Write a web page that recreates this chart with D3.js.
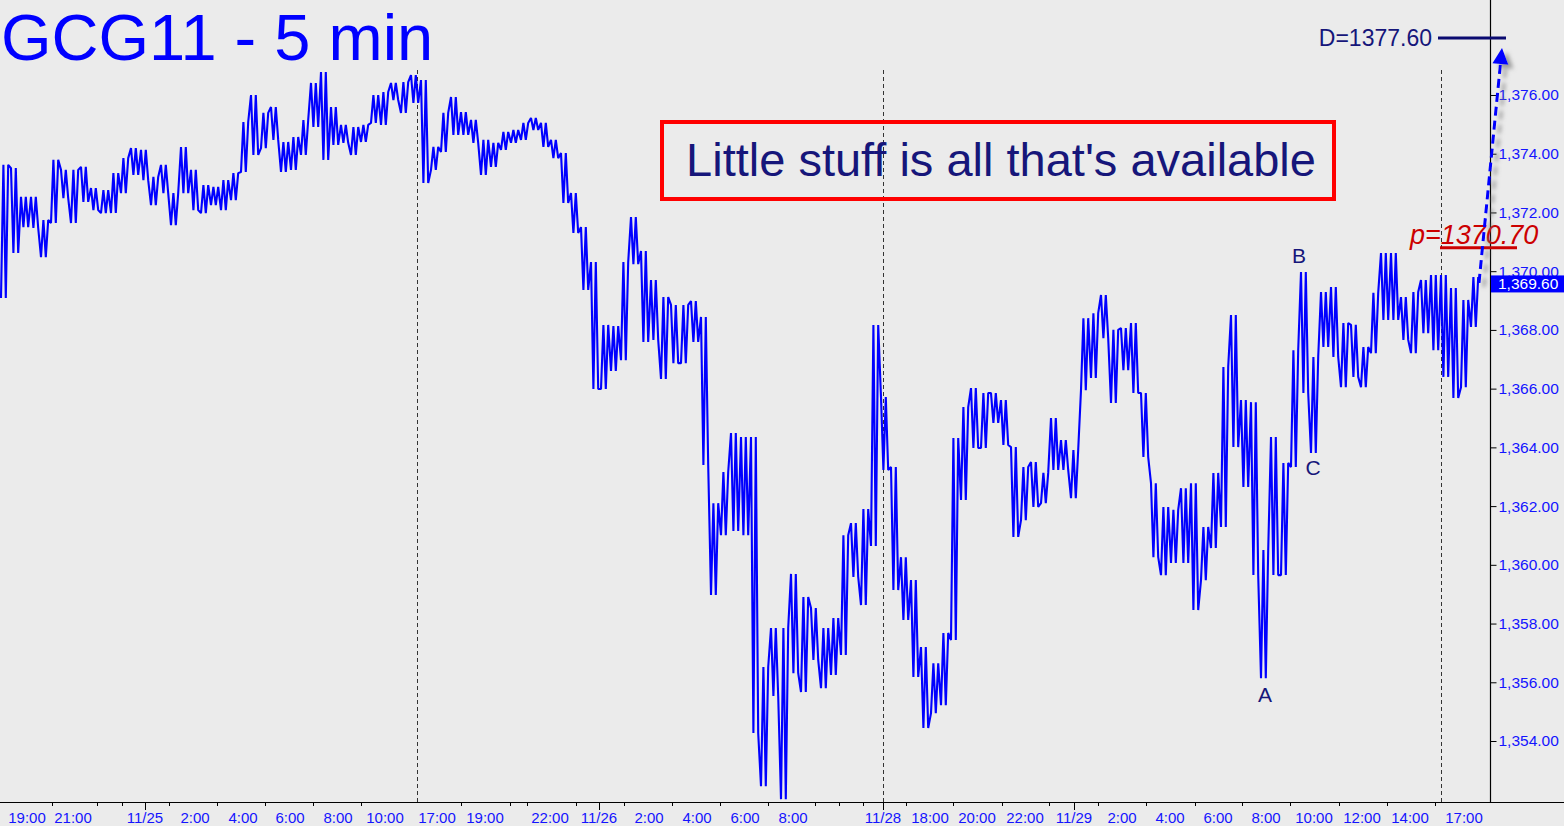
<!DOCTYPE html>
<html><head><meta charset="utf-8">
<script src="https://cdn.jsdelivr.net/npm/d3@7"></script>
<style>html,body{margin:0;padding:0;background:#ebebeb;}svg{display:block;}</style>
</head><body><svg id="c" width="1564" height="826"></svg>
<script>
// ---- data: 25-minute buckets (5 bars of 5 min) ----
const bucketHigh = [
1373.62,1373.51,1372.53,1372.53,1371.74,1373.79,1373.45,1373.45,1373.55,1372.83,
1372.76,1373.34,1373.85,1374.19,1374.13,1373.21,1373.62,1372.66,1374.23,1373.45,
1372.93,1372.87,1373.10,1373.34,1375.08,1376.00,1375.39,1375.59,1374.40,1374.57,
1375.15,1376.41,1376.78,1375.59,1374.98,1374.91,1374.98,1376.00,1376.10,1376.41,
1376.44,1376.68,1376.51,1374.23,1375.39,1375.93,1375.42,1375.15,1374.47,1374.37,
1374.74,1374.81,1375.05,1375.22,1375.05,1374.47,1374.02,1372.66,1371.50,1370.31,
1368.17,1368.13,1370.31,1371.84,1370.69,1369.70,1369.12,1368.85,1368.85,1368.98,
1368.44,1362.10,1363.16,1364.49,1364.35,1364.35,1356.52,1357.85,1357.85,1359.69,
1358.90,1358.53,1357.85,1358.19,1361.01,1361.42,1361.90,1368.17,1365.71,1363.33,
1360.26,1359.48,1357.20,1356.65,1357.68,1364.32,1365.37,1366.02,1365.85,1365.85,
1365.61,1364.01,1363.33,1363.50,1363.13,1365.00,1364.25,1363.91,1368.40,1368.57,
1369.19,1368.00,1368.06,1368.23,1365.85,1362.78,1361.97,1361.87,1362.61,1362.78,
1361.29,1363.13,1366.74,1368.51,1365.61,1365.54,1360.50,1364.35,1363.47,1367.31,
1369.97,1367.08,1369.29,1369.46,1368.23,1368.17,1367.42,1369.26,1370.62,1370.62,
1369.12,1369.29,1369.70,1369.87,1369.87,1369.43,1369.02,1369.80];
const bucketLow = [
1369.09,1370.62,1371.50,1371.47,1370.48,1371.64,1372.49,1371.64,1372.36,1372.08,
1371.98,1371.98,1372.66,1373.28,1373.10,1372.25,1372.66,1371.57,1372.66,1372.08,
1371.98,1372.25,1372.08,1372.42,1373.38,1373.96,1374.19,1374.47,1373.38,1373.45,
1373.96,1374.91,1373.79,1374.30,1374.37,1373.96,1374.40,1375.05,1374.98,1375.83,
1375.39,1375.73,1373.00,1373.45,1374.06,1374.64,1374.64,1374.37,1373.28,1373.55,
1374.13,1374.37,1374.47,1374.81,1374.23,1373.85,1372.32,1371.30,1369.36,1365.99,
1365.99,1366.60,1366.97,1370.24,1367.59,1367.66,1366.33,1366.87,1366.87,1367.59,
1363.40,1358.97,1361.01,1361.15,1361.01,1354.27,1352.46,1355.53,1352.02,1356.31,
1355.67,1356.76,1355.80,1356.25,1356.93,1359.59,1358.63,1360.64,1363.23,1359.14,
1358.12,1356.18,1354.44,1354.95,1355.22,1357.44,1362.21,1363.98,1363.98,1364.83,
1364.08,1360.95,1361.52,1361.97,1362.10,1363.23,1363.23,1362.27,1365.95,1366.36,
1367.72,1365.51,1366.63,1365.85,1363.67,1360.26,1359.65,1360.06,1360.06,1358.46,
1359.48,1360.57,1361.29,1364.01,1362.65,1359.65,1356.14,1359.65,1359.65,1363.33,
1365.85,1363.81,1367.42,1367.08,1366.05,1366.40,1366.05,1367.21,1368.34,1368.34,
1367.66,1367.21,1367.89,1367.31,1366.40,1365.68,1366.05,1368.10];
const barsPerBucket = 5;
const lastPrice = 1369.60;

const priceTicks = [1354,1356,1358,1360,1362,1364,1366,1368,1370,1372,1374,1376];
const timeLabels = ["19:00","21:00","11/25","2:00","4:00","6:00","8:00","10:00","17:00","19:00","22:00","11/26","2:00","4:00","6:00","8:00","11/28","18:00","20:00","22:00","11/29","2:00","4:00","6:00","8:00","10:00","12:00","14:00","17:00"];
const timeLabelBar = [13.5,36.5,72.5,97.5,121.5,145,169,192.5,218.5,242.5,275,299.5,324.5,348.5,372.5,396.5,441.5,465,488.5,512.5,537,561,585,609,633,657,681,705,732];
const majorTickBar = [72.5,299.5,441.5,537];
const minorTickBar = [26,48.5,61,84.5,108.5,132.5,156.5,180.5,230.5,255,263.5,288,312,336,360,384,407.5,419.5,431.5,453,476.5,501,524.5,549,573,597.5,621,645,669.5,693.5,717.5];
const sessionBreakBar = [208.5,441.5,720.5];

const targetPrice = 1377.60;
const pivotPrice = 1370.70;
const waveLabels = ["A","B","C"];
const waveBar = [632.5,649.5,656.5];
const wavePrice = [1355.60,1370.52,1363.30];
const titleText = "GCG11 - 5 min";
const noteText = "Little stuff is all that's available";

// ---- scales ----
const W = 1564, H = 826, plotR = 1490, plotB = 802;
const x = d3.scaleLinear().domain([0, 745]).range([0, plotR]);
const y = d3.scaleLinear().domain([1351.923, 1379.235]).range([plotB, 0]);
const FONT = "'Liberation Sans', Arial, sans-serif";
const svg = d3.select("#c");
svg.append("rect").attr("width", W).attr("height", H).attr("fill", "#ebebeb");

const defs = svg.append("defs");
const f = defs.append("filter").attr("id","sh").attr("x","-50%").attr("y","-50%").attr("width","200%").attr("height","200%");
f.append("feDropShadow").attr("dx",5).attr("dy",4).attr("stdDeviation",2.2).attr("flood-color","#777").attr("flood-opacity",0.7);

// session breaks
svg.append("g").selectAll("line").data(sessionBreakBar).join("line")
  .attr("x1", d => Math.round(x(d)) + 0.5).attr("x2", d => Math.round(x(d)) + 0.5)
  .attr("y1", 70).attr("y2", plotB)
  .attr("stroke", "#333").attr("stroke-width", 1).attr("stroke-dasharray", "4,3");

// price path: each bucket swings across its high/low range
const mids = bucketHigh.map((h,i) => (h + bucketLow[i]) / 2);
const pts = [];
bucketHigh.forEach((h, i) => {
  const lo = bucketLow[i];
  const b0 = i * barsPerBucket;
  const nextMid = i < mids.length - 1 ? mids[i+1] : lastPrice;
  const up = nextMid > mids[i];
  const first = up ? lo : h, second = up ? h : lo;
  pts.push([b0 + 0.5, first]);
  pts.push([b0 + 1.7, second]);
  pts.push([b0 + 2.9, first]);
  pts.push([b0 + 4.1, second]);
});
pts.push([bucketHigh.length * barsPerBucket - 0.5, lastPrice]);
svg.append("path")
  .attr("d", d3.line().x(d => x(d[0])).y(d => y(d[1]))(pts))
  .attr("fill", "none").attr("stroke", "#0000ff").attr("stroke-width", 2.1)
  .attr("stroke-linejoin", "bevel");

// right axis
const yAxis = d3.axisRight(y).tickValues(priceTicks).tickSize(6).tickPadding(2)
  .tickFormat(d3.format(",.2f"));
const ga = svg.append("g").attr("transform", `translate(${plotR + 0.5},0)`).call(yAxis);
ga.select(".domain").remove();
ga.selectAll(".tick line").attr("stroke", "#000");
ga.selectAll(".tick text").attr("fill", "#1414ff").style("font", `15.5px ${FONT}`);
svg.append("line").attr("x1", plotR + 0.5).attr("x2", plotR + 0.5).attr("y1", 0).attr("y2", plotB)
  .attr("stroke", "#000").attr("stroke-width", 1.2);

// bottom axis
svg.append("line").attr("x1", 0).attr("x2", W).attr("y1", plotB + 0.5).attr("y2", plotB + 0.5)
  .attr("stroke", "#000").attr("stroke-width", 1.2);
const gb1 = svg.append("g").attr("transform", `translate(0,${plotB})`)
  .call(d3.axisBottom(x).tickValues(minorTickBar).tickSize(4).tickFormat(""));
gb1.select(".domain").remove();
const gb2 = svg.append("g").attr("transform", `translate(0,${plotB})`)
  .call(d3.axisBottom(x).tickValues(majorTickBar).tickSize(8).tickFormat(""));
gb2.select(".domain").remove();
svg.selectAll(".tick line").attr("stroke", "#000");
svg.append("g").selectAll("text").data(timeLabels).join("text")
  .attr("x", (d, i) => x(timeLabelBar[i])).attr("y", 823)
  .attr("text-anchor", "middle").attr("fill", "#1414ff")
  .style("font", `15px ${FONT}`).text(d => d);

// current price box
const lp = y(lastPrice);
svg.append("rect").attr("x", plotR + 1).attr("y", lp - 7.5).attr("width", W - plotR).attr("height", 17).attr("fill", "#0000ff");
svg.append("text").attr("x", plotR + 8).attr("y", lp + 6.5).attr("fill", "#fff")
  .style("font", `15.5px ${FONT}`).text(d3.format(",.2f")(lastPrice));

// title
svg.append("text").attr("x", 1).attr("y", 60).attr("fill", "#0000ff")
  .style("font", `65px ${FONT}`).text(titleText);

// note box
svg.append("rect").attr("x", 662).attr("y", 122).attr("width", 672).attr("height", 77)
  .attr("fill", "none").attr("stroke", "#ff0000").attr("stroke-width", 4);
svg.append("text").attr("x", 1001).attr("y", 176).attr("text-anchor", "middle").attr("fill", "#16167a")
  .style("font", `47px ${FONT}`).text(noteText);

// wave labels
svg.append("g").selectAll("text").data(waveLabels).join("text")
  .attr("x", (d, i) => x(waveBar[i])).attr("y", (d, i) => y(wavePrice[i]) + 7.5)
  .attr("text-anchor", "middle").attr("fill", "#16167a")
  .style("font", `21px ${FONT}`).text(d => d);

// D target
const dY = y(targetPrice) - 10;
svg.append("text").attr("x", 1432).attr("y", dY + 8).attr("text-anchor", "end").attr("fill", "#16167a")
  .style("font", `23px ${FONT}`).text("D=" + targetPrice.toFixed(2));
svg.append("line").attr("x1", 1438).attr("x2", 1506).attr("y1", dY).attr("y2", dY)
  .attr("stroke", "#0a0a70").attr("stroke-width", 3);

// p pivot
const pY = y(pivotPrice);
svg.append("text").attr("x", 1410).attr("y", pY - 7).attr("fill", "#cc0000")
  .style("font", `italic 27px ${FONT}`).text("p=" + pivotPrice.toFixed(2));
svg.append("line").attr("x1", 1440).attr("x2", 1517).attr("y1", pY - 3).attr("y2", pY - 3)
  .attr("stroke", "#cc0000").attr("stroke-width", 3);

// dashed projection arrow
const ax0 = x(bucketHigh.length * barsPerBucket - 0.5), ay0 = y(lastPrice);
const ax1 = x(751), ay1 = y(targetPrice);
const ang = Math.atan2(ay1 - ay0, ax1 - ax0);
const headL = 16, headW = 8;
const bx = ax1 - headL * Math.cos(ang), by = ay1 - headL * Math.sin(ang);
const arrow = svg.append("g").attr("filter", "url(#sh)");
arrow.append("line").attr("x1", ax0).attr("y1", ay0).attr("x2", bx).attr("y2", by)
  .attr("stroke", "#0000ff").attr("stroke-width", 3).attr("stroke-dasharray", "9,5");
const px = -Math.sin(ang), py = Math.cos(ang);
arrow.append("path").attr("d", `M${ax1},${ay1}L${bx + px*headW},${by + py*headW}L${bx - px*headW},${by - py*headW}Z`)
  .attr("fill", "#0000ff");
</script></body></html>
